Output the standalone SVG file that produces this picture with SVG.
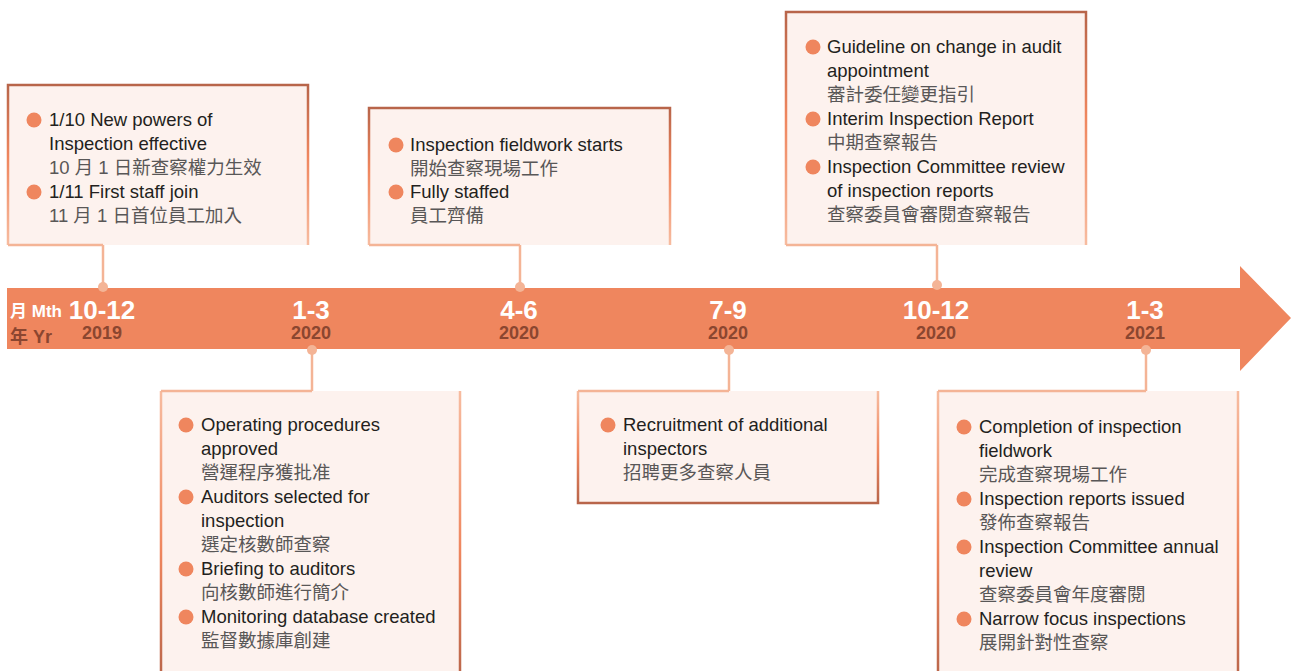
<svg xmlns="http://www.w3.org/2000/svg" width="1291" height="671" viewBox="0 0 1291 671">
<defs>
<linearGradient id="gUp" x1="0" y1="0" x2="0" y2="1">
<stop offset="0" stop-color="#b8654a"/><stop offset="0.45" stop-color="#ef865e"/><stop offset="1" stop-color="#f7bca0"/>
</linearGradient>
<linearGradient id="gDn" x1="0" y1="0" x2="0" y2="1">
<stop offset="0" stop-color="#f7bca0"/><stop offset="0.55" stop-color="#ef865e"/><stop offset="1" stop-color="#b8654a"/>
</linearGradient>
</defs>
<style>
.box{fill:#fdf2ee}
.up{fill:none;stroke:url(#gUp);stroke-width:2.5}
.dn{fill:none;stroke:url(#gDn);stroke-width:2.5}
.con{fill:none;stroke:#f4b496;stroke-width:2.5}
.dot{fill:#f4b496}
.bul{fill:#ef865e}
.en{font-family:"Liberation Sans",Arial,sans-serif;font-size:18.5px;fill:#231f20}
.zh{font-family:"Liberation Sans","Noto Sans CJK TC",sans-serif;font-size:18.5px;fill:#595757}
.q{font-family:"Liberation Sans",Arial,sans-serif;font-weight:bold;font-size:26px;fill:#ffffff;text-anchor:middle}
.y{font-family:"Liberation Sans",Arial,sans-serif;font-weight:bold;font-size:18px;fill:#8b4630;text-anchor:middle}
</style>
<g id="timeline-arrow">
<path d="M7,288 H1240 V266 L1291,318 L1240,371 V349 H7 Z" fill="#ef865e"/>
<text x="10" y="317" font-family="Liberation Sans,'Noto Sans CJK TC',sans-serif" font-weight="bold" font-size="17" fill="#ffffff">月 Mth</text>
<text x="10" y="343" font-family="Liberation Sans,'Noto Sans CJK TC',sans-serif" font-weight="bold" font-size="18" fill="#8b4630">年 Yr</text>
<text class="q" x="102" y="319">10-12</text><text class="y" x="102" y="339">2019</text>
<text class="q" x="311" y="319">1-3</text><text class="y" x="311" y="339">2020</text>
<text class="q" x="519" y="319">4-6</text><text class="y" x="519" y="339">2020</text>
<text class="q" x="728" y="319">7-9</text><text class="y" x="728" y="339">2020</text>
<text class="q" x="936" y="319">10-12</text><text class="y" x="936" y="339">2020</text>
<text class="q" x="1145" y="319">1-3</text><text class="y" x="1145" y="339">2021</text>
</g>
<g id="connectors">
<path class="con" d="M103,245 V287"/><circle class="dot" cx="103" cy="287" r="5"/>
<path class="con" d="M520,245 V287"/><circle class="dot" cx="520" cy="287" r="5"/>
<path class="con" d="M937,245 V285"/><circle class="dot" cx="937" cy="285" r="5"/>
<path class="con" d="M312,391 V350"/><circle class="dot" cx="312" cy="350" r="5"/>
<path class="con" d="M729,391 V350"/><circle class="dot" cx="729" cy="350" r="5"/>
<path class="con" d="M1146,391 V350"/><circle class="dot" cx="1146" cy="350" r="5"/>
</g>
<g id="box-oct2019">
<rect class="box" x="8" y="85" width="300" height="160"/>
<path class="up" d="M308,245 V85 H8 V245"/>
<path class="con" d="M8,245 H103"/>
<circle class="bul" cx="34" cy="120" r="7.5"/>
<text class="en" x="49" y="126">1/10 New powers of</text>
<text class="en" x="49" y="150">Inspection effective</text>
<text class="zh" x="49" y="174">10 月 1 日新查察權力生效</text>
<circle class="bul" cx="34" cy="192" r="7.5"/>
<text class="en" x="49" y="198">1/11 First staff join</text>
<text class="zh" x="49" y="222">11 月 1 日首位員工加入</text>
</g>
<g id="box-apr2020">
<rect class="box" x="369" y="108" width="301" height="137"/>
<path class="up" d="M670,245 V108 H369 V245"/>
<path class="con" d="M369,245 H520"/>
<circle class="bul" cx="396" cy="145" r="7.5"/>
<text class="en" x="410" y="151">Inspection fieldwork starts</text>
<text class="zh" x="410" y="175">開始查察現場工作</text>
<circle class="bul" cx="396" cy="192" r="7.5"/>
<text class="en" x="410" y="198">Fully staffed</text>
<text class="zh" x="410" y="222">員工齊備</text>
</g>
<g id="box-oct2020">
<rect class="box" x="786" y="12" width="300" height="233"/>
<path class="up" d="M1086,245 V12 H786 V245"/>
<path class="con" d="M786,245 H937"/>
<circle class="bul" cx="813" cy="47" r="7.5"/>
<text class="en" x="827" y="53">Guideline on change in audit</text>
<text class="en" x="827" y="77">appointment</text>
<text class="zh" x="827" y="101">審計委任變更指引</text>
<circle class="bul" cx="813" cy="119" r="7.5"/>
<text class="en" x="827" y="125">Interim Inspection Report</text>
<text class="zh" x="827" y="149">中期查察報告</text>
<circle class="bul" cx="813" cy="167" r="7.5"/>
<text class="en" x="827" y="173">Inspection Committee review</text>
<text class="en" x="827" y="197">of inspection reports</text>
<text class="zh" x="827" y="221">查察委員會審閱查察報告</text>
</g>
<g id="box-jan2020">
<rect class="box" x="161" y="391" width="299" height="290"/>
<path class="dn" d="M161,391 V681 M460,391 V681"/>
<path class="con" d="M161,391 H312"/>
<circle class="bul" cx="186" cy="425" r="7.5"/>
<text class="en" x="201" y="431">Operating procedures</text>
<text class="en" x="201" y="455">approved</text>
<text class="zh" x="201" y="479">營運程序獲批准</text>
<circle class="bul" cx="186" cy="497" r="7.5"/>
<text class="en" x="201" y="503">Auditors selected for</text>
<text class="en" x="201" y="527">inspection</text>
<text class="zh" x="201" y="551">選定核數師查察</text>
<circle class="bul" cx="186" cy="569" r="7.5"/>
<text class="en" x="201" y="575">Briefing to auditors</text>
<text class="zh" x="201" y="599">向核數師進行簡介</text>
<circle class="bul" cx="186" cy="617" r="7.5"/>
<text class="en" x="201" y="623">Monitoring database created</text>
<text class="zh" x="201" y="647">監督數據庫創建</text>
</g>
<g id="box-jul2020">
<rect class="box" x="578" y="391" width="300" height="112"/>
<path class="dn" d="M578,391 V503 H878 V391"/>
<path class="con" d="M578,391 H729"/>
<circle class="bul" cx="608" cy="425" r="7.5"/>
<text class="en" x="623" y="431">Recruitment of additional</text>
<text class="en" x="623" y="455">inspectors</text>
<text class="zh" x="623" y="479">招聘更多查察人員</text>
</g>
<g id="box-jan2021">
<rect class="box" x="938" y="391" width="300" height="290"/>
<path class="dn" d="M938,391 V681 M1238,391 V681"/>
<path class="con" d="M938,391 H1146"/>
<circle class="bul" cx="964" cy="427" r="7.5"/>
<text class="en" x="979" y="433">Completion of inspection</text>
<text class="en" x="979" y="457">fieldwork</text>
<text class="zh" x="979" y="481">完成查察現場工作</text>
<circle class="bul" cx="964" cy="499" r="7.5"/>
<text class="en" x="979" y="505">Inspection reports issued</text>
<text class="zh" x="979" y="529">發佈查察報告</text>
<circle class="bul" cx="964" cy="547" r="7.5"/>
<text class="en" x="979" y="553">Inspection Committee annual</text>
<text class="en" x="979" y="577">review</text>
<text class="zh" x="979" y="601">查察委員會年度審閱</text>
<circle class="bul" cx="964" cy="619" r="7.5"/>
<text class="en" x="979" y="625">Narrow focus inspections</text>
<text class="zh" x="979" y="649">展開針對性查察</text>
</g>
</svg>
